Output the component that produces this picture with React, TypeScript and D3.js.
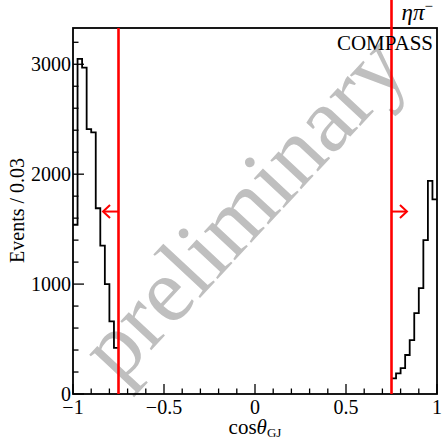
import React, { useEffect, useRef } from "react";
import * as d3 from "d3";

// histogram bin edges (cos theta_GJ) and counts
const leftEdges = [-1, -0.975, -0.95, -0.925, -0.9, -0.875, -0.85, -0.825, -0.8, -0.775, -0.75];
const leftCounts = [1540, 3050, 2970, 2410, 2380, 1690, 1350, 1000, 660, 420];
const rightEdges = [0.75, 0.775, 0.8, 0.825, 0.85, 0.875, 0.9, 0.925, 0.95, 0.975, 1];
const rightCounts = [142, 188, 236, 355, 490, 736, 964, 1400, 1940, 1770];

const cuts = [-0.75, 0.75];
const arrowTips = [-0.835, 0.835];
const arrowLevel = 1660;

const xTicks = [-1, -0.5, 0, 0.5, 1];
const xTickLabels = ["\u22121", "\u22120.5", "0", "0.5", "1"];
const yTicks = [0, 1000, 2000, 3000];

const W = 442;
const H = 442;

const Chart = () => {
  const ref = useRef<SVGSVGElement>(null);

  useEffect(() => {
    const svg = d3.select(ref.current);
    svg.selectAll("*").remove();

    const marginLeft = 73;
    const marginRight = 5;
    const marginTop = 28;
    const marginBottom = 48;

    const x = d3.scaleLinear().domain([-1, 1]).range([marginLeft, W - marginRight]);
    const y = d3.scaleLinear().domain([0, 3330]).range([H - marginBottom, marginTop]);

    const font = "'Liberation Serif', 'Times New Roman', serif";

    // watermark behind everything
    svg
      .append("text")
      .attr("transform", `translate(${x(-0.03)},${y(1640)}) rotate(-47)`)
      .attr("text-anchor", "middle")
      .attr("dominant-baseline", "middle")
      .attr("font-family", font)
      .attr("font-size", 92)
      .attr("fill", "#bfbfbf")
      .text("preliminary");

    // histograms
    const step = d3
      .line<[number, number]>()
      .x((d) => x(d[0]))
      .y((d) => y(d[1]))
      .curve(d3.curveStepAfter);

    const histPoints = (edges: number[], counts: number[]) => {
      const pts: [number, number][] = counts.map((c, i) => [edges[i], c]);
      pts.push([edges[edges.length - 1], counts[counts.length - 1]]);
      return pts;
    };

    svg
      .append("g")
      .attr("fill", "none")
      .attr("stroke", "black")
      .attr("stroke-width", 1.8)
      .selectAll("path")
      .data([histPoints(leftEdges, leftCounts), histPoints(rightEdges, rightCounts)])
      .join("path")
      .attr("d", (d) => step(d));

    // frame
    svg
      .append("rect")
      .attr("x", x(-1))
      .attr("y", y(3330))
      .attr("width", x(1) - x(-1))
      .attr("height", y(0) - y(3330))
      .attr("fill", "none")
      .attr("stroke", "black")
      .attr("stroke-width", 1.8);

    // x ticks
    const xMinor = d3.range(-10, 11).map((i) => i / 10);
    svg
      .append("g")
      .attr("stroke", "black")
      .attr("stroke-width", 1.3)
      .selectAll("line")
      .data(xMinor)
      .join("line")
      .attr("x1", (d) => x(d))
      .attr("x2", (d) => x(d))
      .attr("y1", y(0))
      .attr("y2", (d) => y(0) - (xTicks.some((t) => Math.abs(t - d) < 1e-9) ? 10 : 5.5));

    svg
      .append("g")
      .attr("font-family", font)
      .attr("font-size", 20)
      .attr("text-anchor", "middle")
      .selectAll("text")
      .data(xTicks)
      .join("text")
      .attr("x", (d) => x(d))
      .attr("y", y(0) + 20)
      .text((d, i) => xTickLabels[i]);

    // y ticks
    const yMinor = d3.range(0, 3301, 200);
    svg
      .append("g")
      .attr("stroke", "black")
      .attr("stroke-width", 1.3)
      .selectAll("line")
      .data(yMinor)
      .join("line")
      .attr("x1", x(-1))
      .attr("x2", (d) => x(-1) + (d % 1000 === 0 ? 11 : 5.5))
      .attr("y1", (d) => y(d))
      .attr("y2", (d) => y(d));

    svg
      .append("g")
      .attr("font-family", font)
      .attr("font-size", 20)
      .attr("text-anchor", "end")
      .selectAll("text")
      .data(yTicks)
      .join("text")
      .attr("x", x(-1) - 2)
      .attr("y", (d) => y(d) + 7)
      .text((d) => String(d));

    // cut lines
    svg
      .append("g")
      .attr("stroke", "#ff0000")
      .attr("stroke-width", 2.6)
      .selectAll("line")
      .data(cuts)
      .join("line")
      .attr("x1", (d) => x(d))
      .attr("x2", (d) => x(d))
      .attr("y1", y(0))
      .attr("y2", (d) => (d > 0 ? 0 : y(3330)));

    // arrows
    const arrows = svg
      .append("g")
      .attr("stroke", "#ff0000")
      .attr("stroke-width", 2)
      .attr("fill", "none");
    cuts.forEach((c, i) => {
      const tip = arrowTips[i];
      const dir = tip < c ? -1 : 1;
      const ay = y(arrowLevel);
      arrows
        .append("line")
        .attr("x1", x(c))
        .attr("x2", x(tip))
        .attr("y1", ay)
        .attr("y2", ay);
      arrows
        .append("path")
        .attr(
          "d",
          `M${x(tip) - dir * 7},${ay - 6.5}L${x(tip)},${ay}L${x(tip) - dir * 7},${ay + 6.5}`
        );
    });

    // labels
    svg
      .append("text")
      .attr("x", x(1) - 4)
      .attr("y", y(3330) + 22)
      .attr("text-anchor", "end")
      .attr("font-family", font)
      .attr("font-size", 21)
      .text("COMPASS");

    const topLabel = svg
      .append("text")
      .attr("x", x(1) - 4)
      .attr("y", 20)
      .attr("text-anchor", "end")
      .attr("font-family", font)
      .attr("font-size", 23);
    topLabel.append("tspan").attr("font-style", "italic").text("\u03b7\u03c0");
    topLabel.append("tspan").attr("font-size", 15).attr("dy", -9).text("\u2212");

    const xTitle = svg
      .append("text")
      .attr("x", x(0))
      .attr("y", 434)
      .attr("text-anchor", "middle")
      .attr("font-family", font)
      .attr("font-size", 21);
    xTitle.append("tspan").text("cos");
    xTitle.append("tspan").attr("font-style", "italic").text("\u03b8");
    xTitle.append("tspan").attr("font-size", 13).attr("dy", 3).text("GJ");

    svg
      .append("text")
      .attr("transform", `translate(24,${y(1670)}) rotate(-90)`)
      .attr("text-anchor", "middle")
      .attr("font-family", font)
      .attr("font-size", 20)
      .text("Events / 0.03");
  }, []);

  return <svg ref={ref} width={W} height={H} style={{ position: "absolute", left: 0, top: 0, background: "white" }} />;
};

export default function App() {
  return <Chart />;
}
